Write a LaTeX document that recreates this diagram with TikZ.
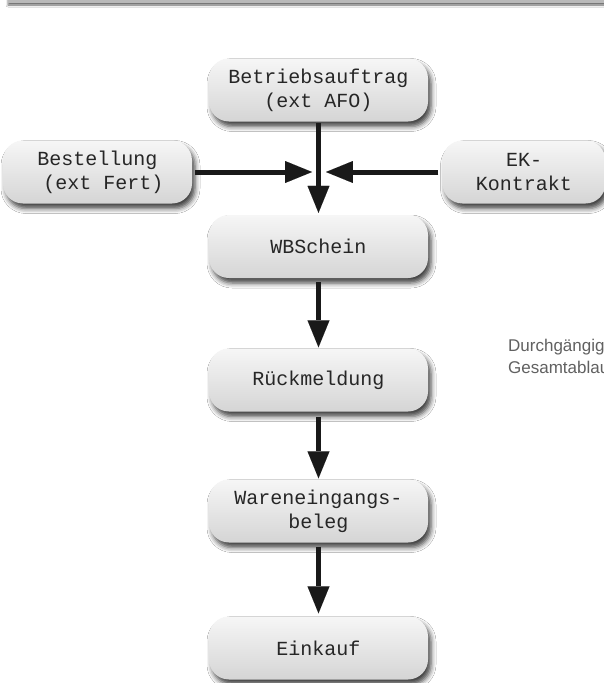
\documentclass[tikz,border=0pt]{standalone}
\usepackage{fontspec}
\setmainfont{Liberation Sans}
\newfontfamily\boxfont{Liberation Mono}
\usetikzlibrary{arrows.meta,shadows.blur}
\begin{document}
\begin{tikzpicture}[x=1pt,y=-1pt,
  box/.style={rounded corners=20pt, minimum height=63pt, minimum width=219pt,
    inner sep=0pt, align=center, font=\boxfont\fontsize{20}{24}\selectfont,
    top color=gray!7, bottom color=gray!33, draw=none, text=black!85,
    blur shadow={shadow xshift=3pt, shadow yshift=-5pt, shadow blur radius=5pt, shadow opacity=75}},
  flow/.style={line width=5pt, draw=black!90,
    -{Triangle[length=27pt,width=22pt,line width=0.01pt,fill=black!90,round=false]},
    shorten <=4pt, shorten >=1pt},
  note/.style={font=\fontsize{17}{22}\selectfont, text=black!62, anchor=base west, inner sep=0pt}]
\useasboundingbox (0,0) rectangle (604,683);
\clip (0,0) rectangle (604,683);
\fill[white] (0,0) rectangle (604,683);
% top bar
\fill[gray!55, blur shadow={shadow xshift=0pt, shadow yshift=-2pt, shadow blur radius=2pt, shadow opacity=60}] (8,-6) rectangle (612,3);
% nodes
\node[box] (ba) at (318.5,90) {Betriebsauftrag\\(ext AFO)};
\node[box, minimum width=189pt] (be) at (97.5,172) {Bestellung\\\hspace*{12pt}(ext Fert)};
\node[box, minimum width=163pt] (ek) at (524,172) {EK-\\Kontrakt};
\node[box] (wb) at (318.5,246.5) {WBSchein};
\node[box] (rm) at (318.5,380) {Rückmeldung};
\node[box] (we) at (318.5,511) {Wareneingangs-\\beleg};
\node[box] (ek2) at (318.5,648) {Einkauf};
\coordinate (jl) at (312,172);
\coordinate (jr) at (326,172);
% connectors
\draw[flow, shorten <=1pt, shorten >=2pt] (ba) -- (wb);
\draw[flow, shorten <=3pt, shorten >=0pt] (be) -- (jl);
\draw[flow, shorten <=4pt, shorten >=0pt] (ek) -- (jr);
\draw[flow] (wb) -- (rm);
\draw[flow, shorten <=5pt] (rm) -- (we);
\draw[flow, shorten >=3pt] (we) -- (ek2);
% side note
\node[note] (n1) at (508,351) {Durchgängig};
\node[note] (n2) at (508,373) {Gesamtablau};
\end{tikzpicture}
\end{document}
